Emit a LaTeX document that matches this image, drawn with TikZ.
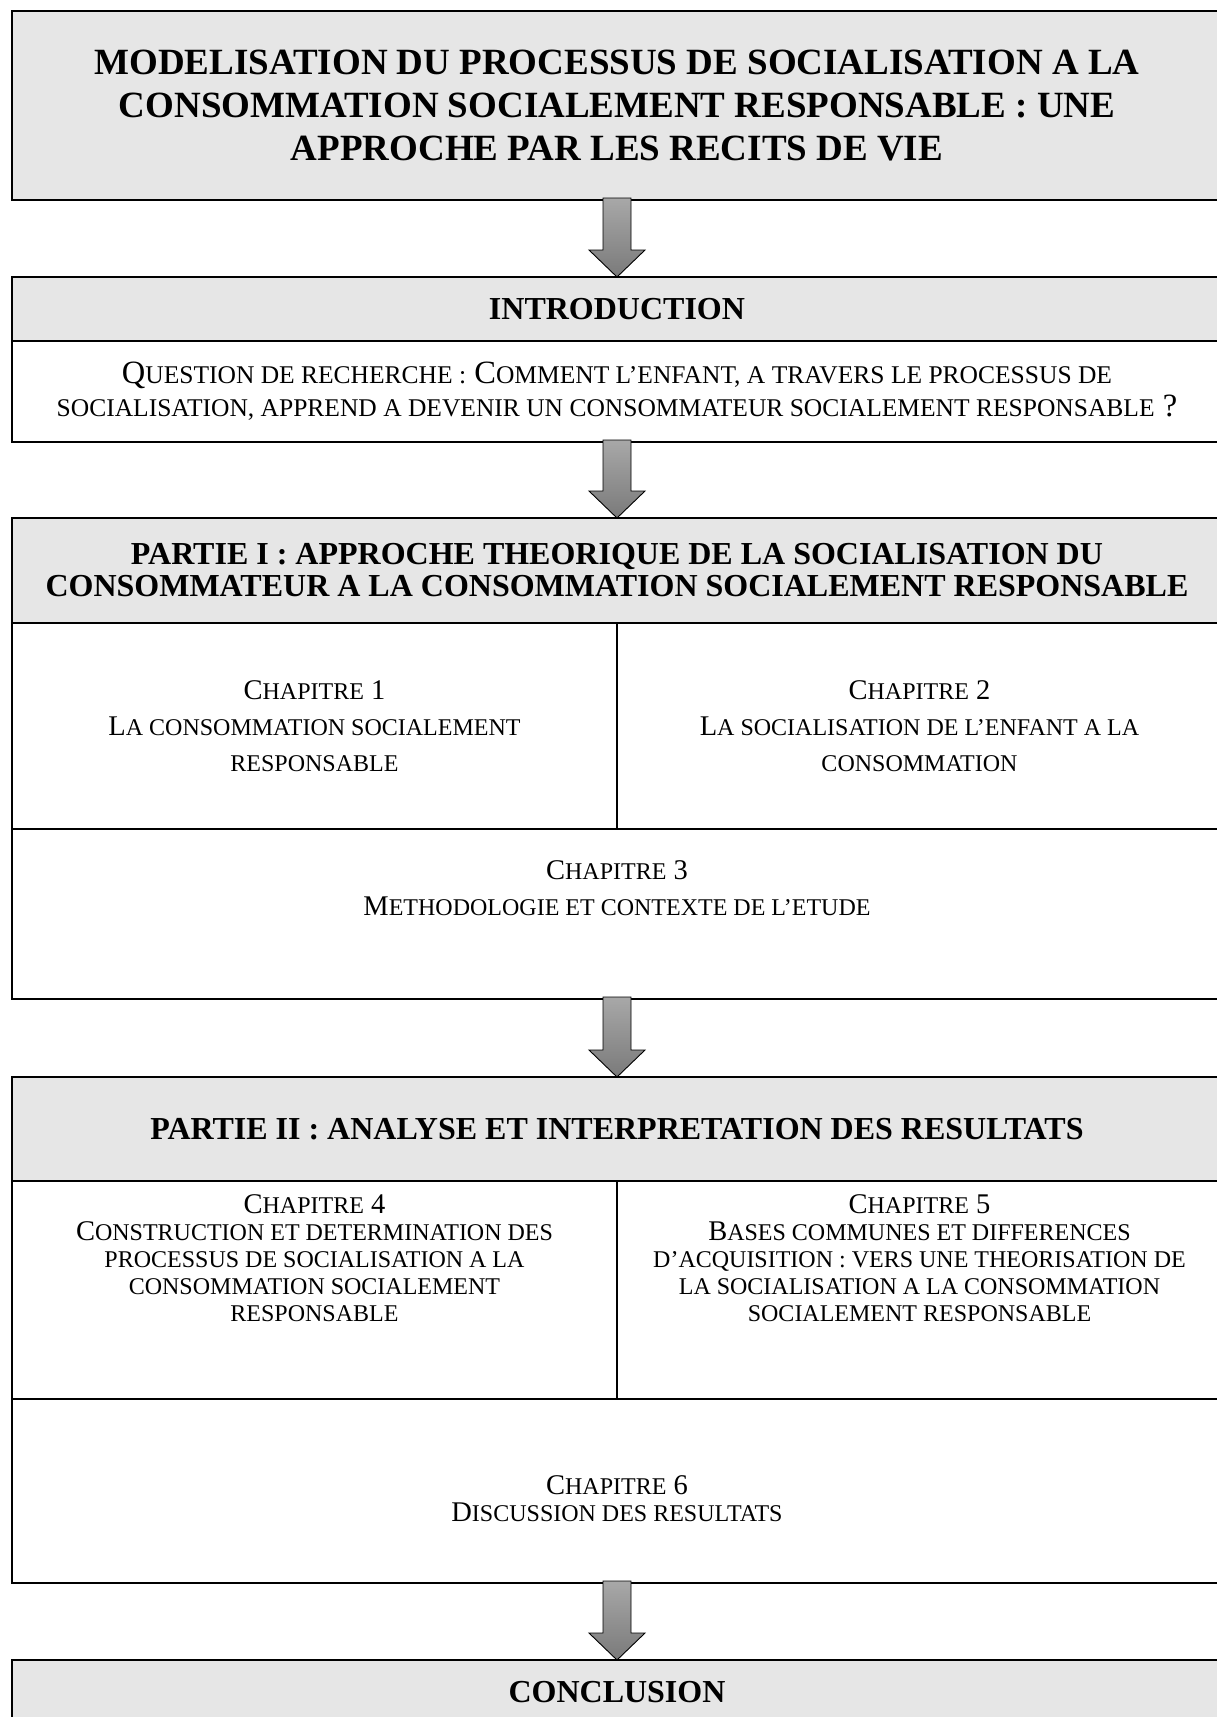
\documentclass[tikz,border=0pt]{standalone}
\usepackage{fontspec}
\setmainfont{Liberation Serif}
\usetikzlibrary{calc}
\definecolor{hdrgray}{HTML}{E6E6E6}
\definecolor{arrtop}{HTML}{A8A8A8}
\definecolor{arrbot}{HTML}{7A7A7A}
\newcommand\scsize{23}
\newcommand\sm[1]{{\fontsize{\scsize}{\scsize}\selectfont #1}}
\newcommand\blockarrow[2]{%
  \shadedraw[barrow] ($(#1.south)+(-14,-2)$) -- ($(#1.south)+(14,-2)$)
    -- ($(#2.north)+(14,-27)$) -- ($(#2.north)+(28,-27)$) -- (#2.north)
    -- ($(#2.north)+(-28,-27)$) -- ($(#2.north)+(-14,-27)$) -- cycle;}
\begin{document}
\begin{tikzpicture}[x=1pt,y=-1pt,
  cell/.style={draw, line width=2.7pt, outer sep=0pt, inner sep=0pt, anchor=north west, align=center},
  hdr/.style={cell, fill=hdrgray},
  full/.style={minimum width=1210pt},
  half/.style={minimum width=605pt},
  titlefont/.style={font=\fontsize{37}{43}\selectfont\bfseries},
  hdrfont/.style={font=\fontsize{32}{32}\selectfont\bfseries},
  qfont/.style={font=\fontsize{32.5}{33}\selectfont\def\scsize{25.5}},
  chA/.style={font=\fontsize{28.5}{36}\selectfont\def\scsize{24}},
  chB/.style={font=\fontsize{28.5}{27}\selectfont\def\scsize{24}},
  ctext/.style={align=center, inner sep=0pt},
  barrow/.style={top color=arrtop, bottom color=arrbot, draw=black, line width=0.9pt, line join=miter}
]
\useasboundingbox (0,0) rectangle (1217,1717);

% Title
\node[hdr, full, minimum height=189pt, titlefont] (title) at (12,11)
  {MODELISATION DU PROCESSUS DE SOCIALISATION A LA\\
   CONSOMMATION SOCIALEMENT RESPONSABLE : UNE\\
   APPROCHE PAR LES RECITS DE VIE};

% Introduction
\node[hdr, full, minimum height=64pt, hdrfont] (introh) at (12,277) {INTRODUCTION};
\node[cell, full, minimum height=101pt, qfont] (introb) at (12,341)
  {Q\sm{UESTION DE RECHERCHE :} C\sm{OMMENT L’ENFANT, A TRAVERS LE PROCESSUS DE}\\
   \sm{SOCIALISATION, APPREND A DEVENIR UN CONSOMMATEUR SOCIALEMENT RESPONSABLE} ?};

% Partie I
\node[hdr, full, minimum height=105pt, hdrfont] (p1h) at (12,518)
  {PARTIE I : APPROCHE THEORIQUE DE LA SOCIALISATION DU\\
   CONSOMMATEUR A LA CONSOMMATION SOCIALEMENT RESPONSABLE};
\node[cell, half, minimum height=206pt, chA] (ch1) at (12,623)
  {C\sm{HAPITRE} 1\\ L\sm{A CONSOMMATION SOCIALEMENT}\\ \sm{RESPONSABLE}};
\node[cell, half, minimum height=206pt, chA] (ch2) at (617,623)
  {C\sm{HAPITRE} 2\\ L\sm{A SOCIALISATION DE L’ENFANT A LA}\\ \sm{CONSOMMATION}};
\node[cell, full, minimum height=170pt] (ch3) at (12,829) {};
\node[ctext, chA] (t3) at ($(ch3.center)+(0,-26)$)
  {C\sm{HAPITRE} 3\\ M\sm{ETHODOLOGIE ET CONTEXTE DE L’ETUDE}};

% Partie II
\node[hdr, full, minimum height=104pt, hdrfont] (p2h) at (12,1077)
  {PARTIE II : ANALYSE ET INTERPRETATION DES RESULTATS};
\node[cell, half, minimum height=218pt] (ch4) at (12,1181) {};
\node[cell, half, minimum height=218pt] (ch5) at (617,1181) {};
\node[ctext, chB] (t4) at ($(ch4.center)+(0,-32)$)
  {C\sm{HAPITRE} 4\\ C\sm{ONSTRUCTION ET DETERMINATION DES}\\
   \sm{PROCESSUS DE SOCIALISATION A LA}\\ \sm{CONSOMMATION SOCIALEMENT}\\ \sm{RESPONSABLE}};
\node[ctext, chB] (t5) at ($(ch5.center)+(0,-32)$)
  {C\sm{HAPITRE} 5\\ B\sm{ASES COMMUNES ET DIFFERENCES}\\
   \sm{D’ACQUISITION : VERS UNE THEORISATION DE}\\ \sm{LA SOCIALISATION A LA CONSOMMATION}\\ \sm{SOCIALEMENT RESPONSABLE}};
\node[cell, full, minimum height=184pt] (ch6) at (12,1399) {};
\node[ctext, chB] (t6) at ($(ch6.center)+(0,8)$)
  {C\sm{HAPITRE} 6\\ D\sm{ISCUSSION DES RESULTATS}};

% Conclusion
\node[hdr, full, minimum height=64pt, hdrfont] (concl) at (12,1660) {CONCLUSION};

% Arrows
\blockarrow{title}{introh}
\blockarrow{introb}{p1h}
\blockarrow{ch3}{p2h}
\blockarrow{ch6}{concl}
\end{tikzpicture}
\end{document}
